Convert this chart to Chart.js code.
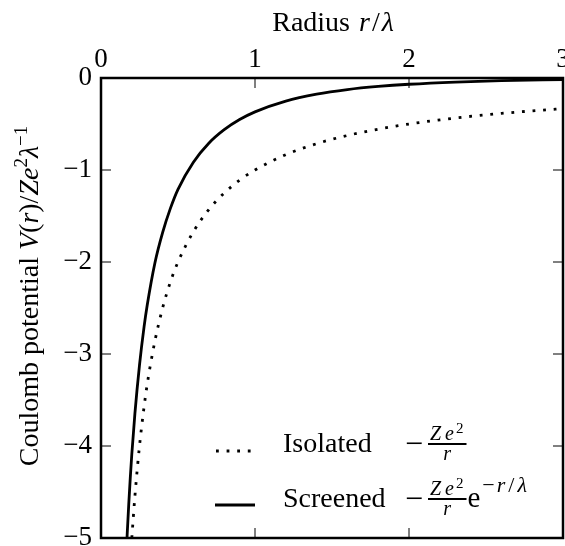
<!DOCTYPE html>
<html>
<head>
<meta charset="utf-8">
<script src="https://cdn.jsdelivr.net/npm/chart.js@4.4.1/dist/chart.umd.min.js"></script>
<style>
  html, body { margin: 0; padding: 0; background: #fff; }
  #wrap { width: 565px; height: 546px; }
</style>
</head>
<body>
<div id="wrap"><canvas id="potentialChart" width="565" height="546"></canvas></div>
<script>
// values
const radiusScreened = [0.16, 0.17, 0.18, 0.19, 0.2, 0.22, 0.25, 0.28, 0.3, 0.35, 0.4, 0.45, 0.5, 0.6, 0.7, 0.8, 0.9, 1.0, 1.2, 1.4, 1.6, 1.8, 2.0, 2.3, 2.6, 3.0];
const screened = [-5.33, -4.96, -4.64, -4.35, -4.09, -3.65, -3.12, -2.70, -2.47, -2.01, -1.68, -1.42, -1.21, -0.915, -0.709, -0.562, -0.452, -0.368, -0.251, -0.176, -0.126, -0.092, -0.068, -0.044, -0.029, -0.017];
const radiusIsolated = [0.2, 0.22, 0.25, 0.28, 0.3, 0.35, 0.4, 0.45, 0.5, 0.6, 0.7, 0.8, 0.9, 1.0, 1.2, 1.4, 1.6, 1.8, 2.0, 2.3, 2.6, 3.0];
const isolated = [-5, -4.55, -4, -3.57, -3.33, -2.86, -2.5, -2.22, -2, -1.67, -1.43, -1.25, -1.11, -1, -0.833, -0.714, -0.625, -0.556, -0.5, -0.435, -0.385, -0.333];
const xTicks = [0, 1, 2, 3];
const yTicks = [0, -1, -2, -3, -4, -5];

const FONT = '"Liberation Serif", "Times New Roman", serif';

function toPoints(xs, ys) {
  return xs.map((x, i) => ({ x, y: ys[i] }));
}

function fmt(v) {
  return v < 0 ? '\u2212' + Math.abs(v) : String(v);
}

// text made of pieces with their own font, raise and trailing gap
function runsWidth(ctx, runs) {
  let w = 0;
  runs.forEach((r) => { ctx.font = r.font; w += ctx.measureText(r.text).width + (r.gap || 0); });
  return w;
}

function drawRuns(ctx, runs, x, y) {
  let cx = x;
  runs.forEach((r) => {
    ctx.font = r.font;
    ctx.fillText(r.text, cx, y + (r.dy || 0));
    cx += ctx.measureText(r.text).width + (r.gap || 0);
  });
  return cx;
}

const rm = (s) => `${s}px ${FONT}`;
const it = (s) => `italic ${s}px ${FONT}`;

// -Ze^2/r with the bar at barY, starting at x
function drawFraction(ctx, x, barY) {
  ctx.font = rm(32);
  ctx.fillText('\u2212', x, barY + 10);
  const nx = x + 23;
  const num = [
    { text: 'Z', font: it(20), gap: 4 },
    { text: 'e', font: it(20), gap: 2 },
    { text: '2', font: rm(15), dy: -7 }
  ];
  const nw = runsWidth(ctx, num);
  drawRuns(ctx, num, nx + 2, barY - 4);
  ctx.fillRect(nx, barY - 1, nw + 5, 2);
  ctx.font = it(20);
  const rw = ctx.measureText('r').width;
  ctx.fillText('r', nx + (nw + 5 - rw) / 2, barY + 16);
  return nx + nw + 5;
}

const decorations = {
  id: 'decorations',
  afterDraw(chart) {
    const { ctx, chartArea: a, scales } = chart;
    ctx.save();
    ctx.strokeStyle = '#000';
    ctx.fillStyle = '#000';

    // frame
    ctx.lineWidth = 2.5;
    ctx.strokeRect(a.left, a.top, a.right - a.left, a.bottom - a.top);

    // inward ticks on all four sides
    ctx.lineWidth = 1;
    ctx.beginPath();
    xTicks.forEach((v) => {
      const px = scales.x.getPixelForValue(v);
      ctx.moveTo(px, a.top); ctx.lineTo(px, a.top + 10);
      ctx.moveTo(px, a.bottom); ctx.lineTo(px, a.bottom - 10);
    });
    yTicks.forEach((v) => {
      const py = scales.y.getPixelForValue(v);
      ctx.moveTo(a.left, py); ctx.lineTo(a.left + 10, py);
      ctx.moveTo(a.right, py); ctx.lineTo(a.right - 10, py);
    });
    ctx.stroke();

    ctx.textBaseline = 'alphabetic';
    ctx.textAlign = 'left';

    // x title
    const xt = [
      { text: 'Radius ', font: rm(28), gap: 2 },
      { text: 'r', font: it(28), gap: 2 },
      { text: '/', font: rm(28), gap: 2 },
      { text: '\u03bb', font: it(28) }
    ];
    const cxm = (a.left + a.right) / 2;
    drawRuns(ctx, xt, cxm - runsWidth(ctx, xt) / 2 + 1, 31);

    // y title
    const yt = [
      { text: 'Coulomb potential ', font: rm(28) },
      { text: 'V', font: it(28) },
      { text: '(', font: rm(28) },
      { text: 'r', font: it(28) },
      { text: ')/', font: rm(28) },
      { text: 'Ze', font: it(28) },
      { text: '2', font: rm(19), dy: -11 },
      { text: '\u03bb', font: it(28) },
      { text: '\u22121', font: rm(19), dy: -11 }
    ];
    ctx.save();
    ctx.translate(38, 296);
    ctx.rotate(-Math.PI / 2);
    drawRuns(ctx, yt, -runsWidth(ctx, yt) / 2, 0);
    ctx.restore();

    // legend
    const dotted = chart.data.datasets[0];
    const solid = chart.data.datasets[1];
    ctx.lineWidth = dotted.borderWidth;
    ctx.setLineDash(dotted.borderDash);
    ctx.beginPath();
    ctx.moveTo(216, 451); ctx.lineTo(252, 451);
    ctx.stroke();
    ctx.setLineDash([]);
    ctx.lineWidth = solid.borderWidth;
    ctx.beginPath();
    ctx.moveTo(215, 505); ctx.lineTo(255, 505);
    ctx.stroke();

    ctx.font = rm(28);
    ctx.fillText('Isolated', 283, 452);
    ctx.fillText('Screened', 283, 507);
    drawFraction(ctx, 405, 444);
    const ex = drawFraction(ctx, 405, 499);
    drawRuns(ctx, [
      { text: 'e', font: rm(29), gap: 2 },
      { text: '\u2212', font: rm(22), dy: -15, gap: 2 },
      { text: 'r', font: it(22), dy: -15, gap: 3 },
      { text: '/', font: rm(22), dy: -15, gap: 3 },
      { text: '\u03bb', font: it(22), dy: -15 }
    ], ex + 1, 507);

    ctx.restore();
  }
};

const ctx = document.getElementById('potentialChart').getContext('2d');

const chart = new Chart(ctx, {
  type: 'line',
  data: {
    datasets: [
      {
        label: 'Isolated',
        data: toPoints(radiusIsolated, isolated),
        borderColor: '#000',
        borderWidth: 2.8,
        borderDash: [2.8, 7.8],
        borderCapStyle: 'butt',
        pointRadius: 0,
        fill: false,
        cubicInterpolationMode: 'monotone',
        clip: 0
      },
      {
        label: 'Screened',
        data: toPoints(radiusScreened, screened),
        borderColor: '#000',
        borderWidth: 2.8,
        pointRadius: 0,
        fill: false,
        cubicInterpolationMode: 'monotone',
        clip: 0
      }
    ]
  },
  options: {
    responsive: false,
    animation: false,
    events: [],
    layout: { padding: { left: 0, top: 0, right: 2, bottom: 8 } },
    scales: {
      x: {
        type: 'linear',
        position: 'top',
        min: 0,
        max: 3,
        grid: { display: false, drawTicks: false },
        border: { display: false },
        ticks: {
          stepSize: 1,
          color: '#000',
          padding: 2,
          maxRotation: 0,
          font: { family: FONT, size: 27 },
          callback: fmt
        },
        afterFit(scale) {
          scale.height = 78;
          scale.paddingLeft = 0;
          scale.paddingRight = 0;
        }
      },
      y: {
        type: 'linear',
        position: 'left',
        min: -5,
        max: 0,
        grid: { display: false, drawTicks: false },
        border: { display: false },
        ticks: {
          stepSize: 1,
          color: '#000',
          padding: 9,
          font: { family: FONT, size: 27 },
          callback: fmt
        },
        afterFit(scale) {
          scale.width = 101;
          scale.paddingTop = 0;
          scale.paddingBottom = 0;
        }
      }
    },
    plugins: {
      legend: { display: false },
      tooltip: { enabled: false }
    }
  },
  plugins: [decorations]
});
</script>
</body>
</html>
